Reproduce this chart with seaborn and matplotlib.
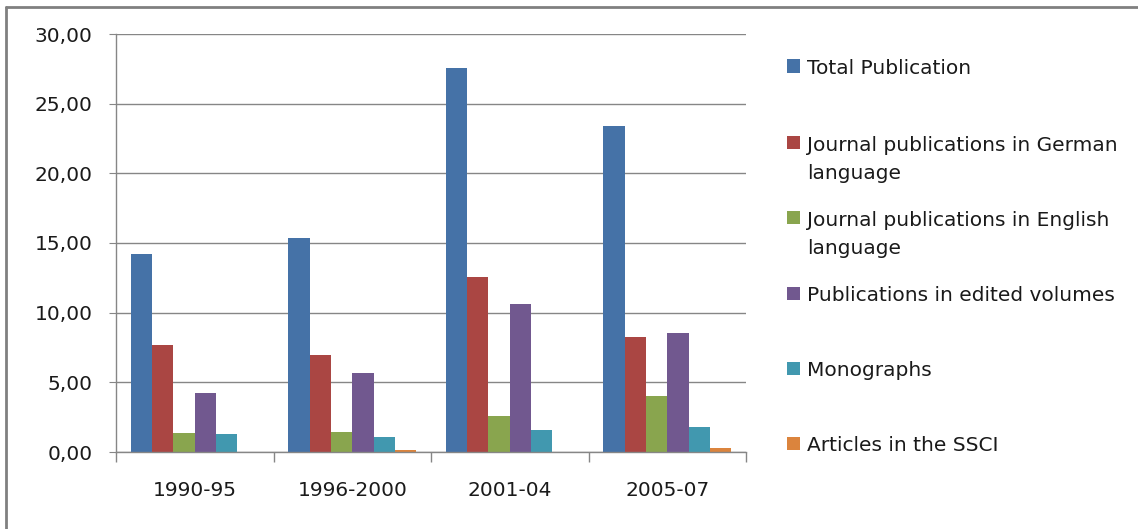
import pandas as pd
import matplotlib
matplotlib.use('Agg')
import matplotlib.pyplot as plt
import seaborn as sns
from matplotlib.ticker import FuncFormatter, FixedLocator
from matplotlib.lines import Line2D
from matplotlib.patches import Rectangle

# data
periods = ['1990-95', '1996-2000', '2001-04', '2005-07']
series = ['Total Publication',
          'Journal publications in German\nlanguage',
          'Journal publications in English\nlanguage',
          'Publications in edited volumes',
          'Monographs',
          'Articles in the SSCI']
total = [14.21, 15.36, 27.57, 23.42]
german = [7.68, 6.96, 12.56, 8.25]
english = [1.36, 1.43, 2.58, 4.02]
edited = [4.23, 5.67, 10.62, 8.54]
mono = [1.29, 1.08, 1.58, 1.79]
ssci = [0.0, 0.12, 0.0, 0.27]
colors = ['#4572A7', '#AA4643', '#89A54E', '#71588F', '#4198AF', '#DB843D']

rows = []
for name, vals in zip(series, [total, german, english, edited, mono, ssci]):
    for p, v in zip(periods, vals):
        rows.append({'period': p, 'series': name, 'value': v})
df = pd.DataFrame(rows)

sns.set_style('white')
plt.rcParams['font.family'] = ['DejaVu Sans']

W, H = 1138, 529
fig = plt.figure(figsize=(W / 100, H / 100), dpi=100)
ax = fig.add_axes([116 / W, 1 - 452 / H, 630 / W, 418 / H])

sns.barplot(data=df, x='period', y='value', hue='series', hue_order=series,
            palette=colors, width=0.81, saturation=1, legend=False,
            linewidth=0, edgecolor='none', ax=ax)

grey = '#868686'
txt = '#1a1a1a'
fs = 14.5
ax.set_ylim(0, 30)
ax.set_xlim(-0.5, 3.5)
ax.yaxis.set_major_locator(FixedLocator([0, 5, 10, 15, 20, 25, 30]))
ax.yaxis.set_major_formatter(FuncFormatter(lambda v, _: f'{v:.2f}'.replace('.', ',')))
ax.grid(axis='y', color=grey, lw=1)
ax.set_axisbelow(True)
ax.set_xlabel('')
ax.set_ylabel('')
for s in ['top', 'right']:
    ax.spines[s].set_visible(False)
for s in ['left', 'bottom']:
    ax.spines[s].set_color(grey)
    ax.spines[s].set_linewidth(1)

ax.tick_params(axis='y', which='major', left=True, length=5, color=grey,
               pad=12, labelsize=fs, labelcolor=txt)
ax.tick_params(axis='x', which='major', bottom=False, length=0, pad=21,
               labelsize=fs, labelcolor=txt)
ax.xaxis.set_minor_locator(FixedLocator([-0.5, 0.5, 1.5, 2.5, 3.5]))
ax.tick_params(axis='x', which='minor', bottom=True, length=7, color=grey, width=1)

# legend drawn by hand so that the swatch sits on the first text line
def fx(px):
    return px / W

def fy(py):
    return 1 - py / H

marker_y = [66, 143, 218, 293, 368, 443]
for name, c, y in zip(series, colors, marker_y):
    fig.add_artist(Rectangle((fx(787), fy(y + 6.5)), 13 / W, 13 / H,
                             transform=fig.transFigure, color=c, lw=0))
    for k, line in enumerate(name.split('\n')):
        fig.text(fx(807), fy(y + 8 + 28 * k), line, fontsize=fs,
                 va='baseline', ha='left', color=txt)

# outer frame (top and left edges only visible in the reference)
fig.add_artist(Line2D([fx(6), fx(6)], [fy(7), 0], transform=fig.transFigure,
                      color='#808080', lw=2))
fig.add_artist(Line2D([fx(6), 1], [fy(7), fy(7)], transform=fig.transFigure,
                      color='#808080', lw=2))

fig.savefig('out.png', dpi=100)
